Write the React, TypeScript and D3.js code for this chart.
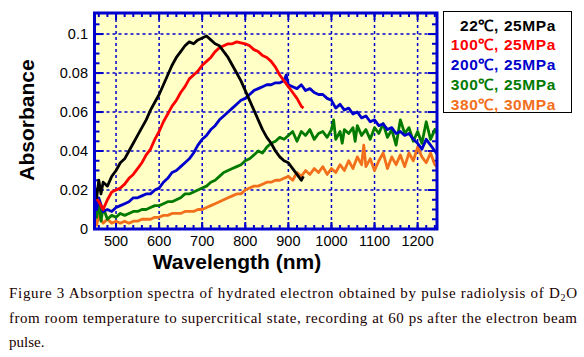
import React from "react";
import * as d3 from "d3";

const W = 584;
const H = 357;

const xTicks = [500, 600, 700, 800, 900, 1000, 1100, 1200];
const yTicks = [0, 0.02, 0.04, 0.06, 0.08, 0.1];
const yTickLabels = ["0", "0.02", "0.04", "0.06", "0.08", "0.1"];

const seriesNames = ["22℃, 25MPa", "100℃, 25MPa", "200℃, 25MPa", "300℃, 25MPa", "380℃, 30MPa"];
const seriesColors = ["#000000", "#ff0000", "#0000cc", "#007a00", "#f26f1c"];

// black: 22C
const wlBlack = [450,455,460,465,470,480,490,500,510,520,530,540,550,560,570,580,590,600,610,620,630,640,650,660,670,680,690,700,710,720,730,740,750,760,770,780,790,800,810,820,830,840,850,860,870,880,890,900,910,920,930,935];
const absBlack = [0.022,0.016,0.025,0.018,0.024,0.022,0.027,0.030,0.034,0.036,0.040,0.044,0.048,0.052,0.056,0.061,0.065,0.069,0.074,0.079,0.084,0.088,0.091,0.094,0.096,0.095,0.097,0.098,0.099,0.097,0.095,0.094,0.091,0.088,0.084,0.080,0.076,0.071,0.066,0.061,0.056,0.051,0.047,0.044,0.040,0.037,0.035,0.034,0.031,0.028,0.025,0.027];

// red: 100C
const wlRed = [450,460,470,480,490,500,510,520,530,540,550,560,570,580,590,600,610,620,630,640,650,660,670,680,690,700,710,720,730,740,750,760,770,780,790,800,810,820,830,840,850,860,870,880,890,900,910,920,930,935];
const absRed = [0.017,0.014,0.010,0.015,0.019,0.020,0.021,0.023,0.026,0.028,0.031,0.034,0.038,0.041,0.046,0.050,0.055,0.059,0.063,0.066,0.070,0.073,0.077,0.079,0.081,0.084,0.086,0.088,0.091,0.093,0.094,0.095,0.095,0.096,0.0955,0.095,0.094,0.092,0.091,0.089,0.088,0.086,0.083,0.079,0.076,0.073,0.070,0.067,0.063,0.062];

// blue: 200C
const wlBlue = [450,455,460,470,480,490,500,510,520,530,540,550,560,570,580,590,600,610,620,630,640,650,660,670,680,690,700,710,720,730,740,750,760,770,780,790,800,810,820,830,840,850,860,870,880,890,895,900,910,920,930,940,950,960,970,980,990,1000,1010,1020,1030,1040,1050,1060,1070,1080,1090,1100,1110,1120,1130,1140,1150,1160,1170,1180,1190,1200,1210,1220,1230,1240,1250];
const absBlue = [0.018,0.010,0.016,0.009,0.010,0.009,0.011,0.012,0.013,0.014,0.016,0.016,0.017,0.018,0.018,0.020,0.021,0.024,0.026,0.029,0.030,0.032,0.034,0.036,0.039,0.043,0.046,0.048,0.051,0.053,0.056,0.058,0.060,0.062,0.064,0.066,0.067,0.069,0.071,0.072,0.073,0.074,0.074,0.075,0.075,0.076,0.079,0.074,0.073,0.072,0.074,0.071,0.072,0.070,0.069,0.069,0.067,0.066,0.062,0.064,0.061,0.062,0.059,0.060,0.057,0.058,0.055,0.056,0.053,0.054,0.051,0.052,0.049,0.050,0.048,0.049,0.046,0.044,0.041,0.046,0.043,0.040,0.037];

// green: 300C
const wlGreen = [450,455,460,465,470,480,490,500,510,520,530,540,550,560,570,580,590,600,610,620,630,640,650,660,670,680,690,700,710,720,730,740,750,760,770,780,790,800,810,820,830,840,850,860,870,880,890,900,910,920,930,940,950,960,970,980,990,1000,1005,1010,1020,1025,1030,1040,1050,1055,1060,1070,1080,1090,1100,1110,1120,1130,1140,1150,1160,1170,1180,1190,1200,1210,1220,1230,1240,1250];
const absGreen = [0.016,0.006,0.014,0.004,0.011,0.005,0.007,0.006,0.008,0.007,0.008,0.009,0.009,0.010,0.010,0.011,0.012,0.012,0.013,0.014,0.014,0.015,0.016,0.018,0.018,0.019,0.020,0.021,0.022,0.024,0.025,0.027,0.029,0.030,0.031,0.032,0.033,0.035,0.036,0.038,0.040,0.039,0.042,0.044,0.045,0.047,0.046,0.048,0.050,0.045,0.050,0.048,0.051,0.046,0.049,0.050,0.047,0.051,0.056,0.046,0.050,0.044,0.051,0.049,0.052,0.045,0.053,0.048,0.051,0.046,0.052,0.049,0.054,0.047,0.051,0.043,0.056,0.049,0.052,0.045,0.050,0.044,0.055,0.046,0.051,0.047];

// orange: 380C
const wlOrange = [450,455,460,470,480,490,500,510,520,530,540,550,560,570,580,590,600,610,620,630,640,650,660,670,680,690,700,710,720,730,740,750,760,770,780,790,800,810,820,830,840,850,860,870,880,890,900,910,920,930,940,950,960,970,980,990,1000,1010,1020,1030,1040,1050,1060,1070,1075,1080,1090,1100,1110,1120,1130,1140,1150,1160,1170,1180,1190,1200,1210,1220,1230,1240,1250];
const absOrange = [0.009,0.002,0.007,0.003,0.005,0.003,0.004,0.003,0.004,0.003,0.004,0.004,0.005,0.005,0.005,0.006,0.006,0.007,0.007,0.008,0.008,0.008,0.009,0.009,0.009,0.010,0.010,0.011,0.012,0.013,0.014,0.015,0.016,0.017,0.018,0.018,0.020,0.021,0.022,0.022,0.023,0.024,0.024,0.025,0.025,0.026,0.027,0.025,0.029,0.027,0.030,0.028,0.031,0.029,0.032,0.028,0.031,0.029,0.033,0.030,0.035,0.031,0.037,0.033,0.043,0.032,0.036,0.030,0.035,0.039,0.031,0.037,0.033,0.038,0.032,0.039,0.035,0.042,0.037,0.034,0.039,0.033,0.031];

const series = [
  { wl: wlOrange, a: absOrange, c: seriesColors[4] },
  { wl: wlGreen, a: absGreen, c: seriesColors[3] },
  { wl: wlBlue, a: absBlue, c: seriesColors[2] },
  { wl: wlRed, a: absRed, c: seriesColors[1] },
  { wl: wlBlack, a: absBlack, c: seriesColors[0] },
];

export default function App() {
  const left = 94.5, right = 437, top = 13, bottom = 229;
  const x = d3.scaleLinear().domain([450, 1245]).range([left, right]);
  const y = d3.scaleLinear().domain([0, 0.1108]).range([bottom, top]);
  const blue = "#0000cc";
  const line = d3.line<[number, number]>().x((d) => x(d[0])).y((d) => y(d[1]));

  const minorX = d3.range(460, 1245, 20);
  const majorX = d3.range(500, 1245, 100);
  const minorY = d3.range(0.005, 0.11, 0.005);
  const majorY = yTicks;

  return (
    <svg width={W} height={H} style={{ position: "absolute", left: 0, top: 0, background: "#fff" }}>
      <defs>
        <clipPath id="plotclip">
          <rect x={left} y={top} width={right - left} height={bottom - top} />
        </clipPath>
      </defs>
      <rect x={left} y={top} width={right - left} height={bottom - top} fill="#ffffc6" />
      {/* grid */}
      <g stroke={blue} strokeWidth={1.5} strokeDasharray="3,3">
        {xTicks.map((t) => (
          <line key={"gx" + t} x1={x(t)} x2={x(t)} y1={top} y2={bottom} />
        ))}
        {yTicks.slice(1).map((t) => (
          <line key={"gy" + t} x1={left} x2={right} y1={y(t)} y2={y(t)} />
        ))}
      </g>
      {/* ticks */}
      <g stroke={blue} strokeWidth={2}>
        {minorX.map((t) => (
          <g key={"mx" + t}>
            <line x1={x(t)} x2={x(t)} y1={top} y2={top + 4} />
            <line x1={x(t)} x2={x(t)} y1={bottom} y2={bottom - 4} />
          </g>
        ))}
        {majorX.map((t) => (
          <g key={"Mx" + t}>
            <line x1={x(t)} x2={x(t)} y1={top} y2={top + 7} />
            <line x1={x(t)} x2={x(t)} y1={bottom} y2={bottom - 7} />
          </g>
        ))}
        {minorY.map((t) => (
          <g key={"my" + t}>
            <line x1={left} x2={left + 5} y1={y(t)} y2={y(t)} />
            <line x1={right} x2={right - 5} y1={y(t)} y2={y(t)} />
          </g>
        ))}
        {majorY.map((t) => (
          <g key={"My" + t}>
            <line x1={left} x2={left + 9} y1={y(t)} y2={y(t)} />
            <line x1={right} x2={right - 9} y1={y(t)} y2={y(t)} />
          </g>
        ))}
      </g>
      {/* data */}
      <g clipPath="url(#plotclip)" fill="none" strokeWidth={2.8} strokeLinejoin="round">
        {series.map((s, i) => (
          <path key={i} d={line(s.wl.map((w, j) => [w, s.a[j]] as [number, number])) || ""} stroke={s.c} />
        ))}
      </g>
      <rect x={left} y={top} width={right - left} height={bottom - top} fill="none" stroke={blue} strokeWidth={3} />
      {/* tick labels */}
      <g fontFamily="Liberation Sans, Arial, sans-serif" fontSize={14.5} fill="#000">
        {xTicks.map((t) => (
          <text key={"lx" + t} x={x(t)} y={246} textAnchor="middle">{t}</text>
        ))}
        {yTicks.map((t, i) => (
          <text key={"ly" + t} x={88} y={y(t) + 5} textAnchor="end">{yTickLabels[i]}</text>
        ))}
      </g>
      <text x={237} y={269} textAnchor="middle" fontFamily="Liberation Sans, Arial, sans-serif" fontWeight="bold" fontSize={21}>Wavelength (nm)</text>
      <text transform="translate(34,120) rotate(-90)" textAnchor="middle" fontFamily="Liberation Sans, Arial, sans-serif" fontWeight="bold" fontSize={21}>Absorbance</text>
      {/* legend */}
      <rect x={443.5} y={11.5} width={128} height={101} fill="#fff" stroke="#000" strokeWidth={1} />
      <g fontFamily="Liberation Sans, Arial, sans-serif" fontWeight="bold" fontSize={15.5} textAnchor="end">
        {seriesNames.map((n, i) => (
          <text key={n} x={556} y={30.5 + i * 19.8} fill={seriesColors[i]} letterSpacing={0.6}>{n}</text>
        ))}
      </g>
      {/* caption */}
      <g fontFamily="Liberation Serif, Times New Roman, serif" fontSize={15} fill="#1a0000">
        <text x={9} y={298} textLength={568} lengthAdjust="spacing">
          Figure 3 Absorption spectra of hydrated electron obtained by pulse radiolysis of D<tspan fontSize={10} dy={3}>2</tspan><tspan dy={-3}>O</tspan>
        </text>
        <text x={9} y={322.5} textLength={568} lengthAdjust="spacing">
          from room temperature to supercritical state, recording at 60 ps after the electron beam
        </text>
        <text x={9} y={347}>pulse.</text>
      </g>
    </svg>
  );
}
